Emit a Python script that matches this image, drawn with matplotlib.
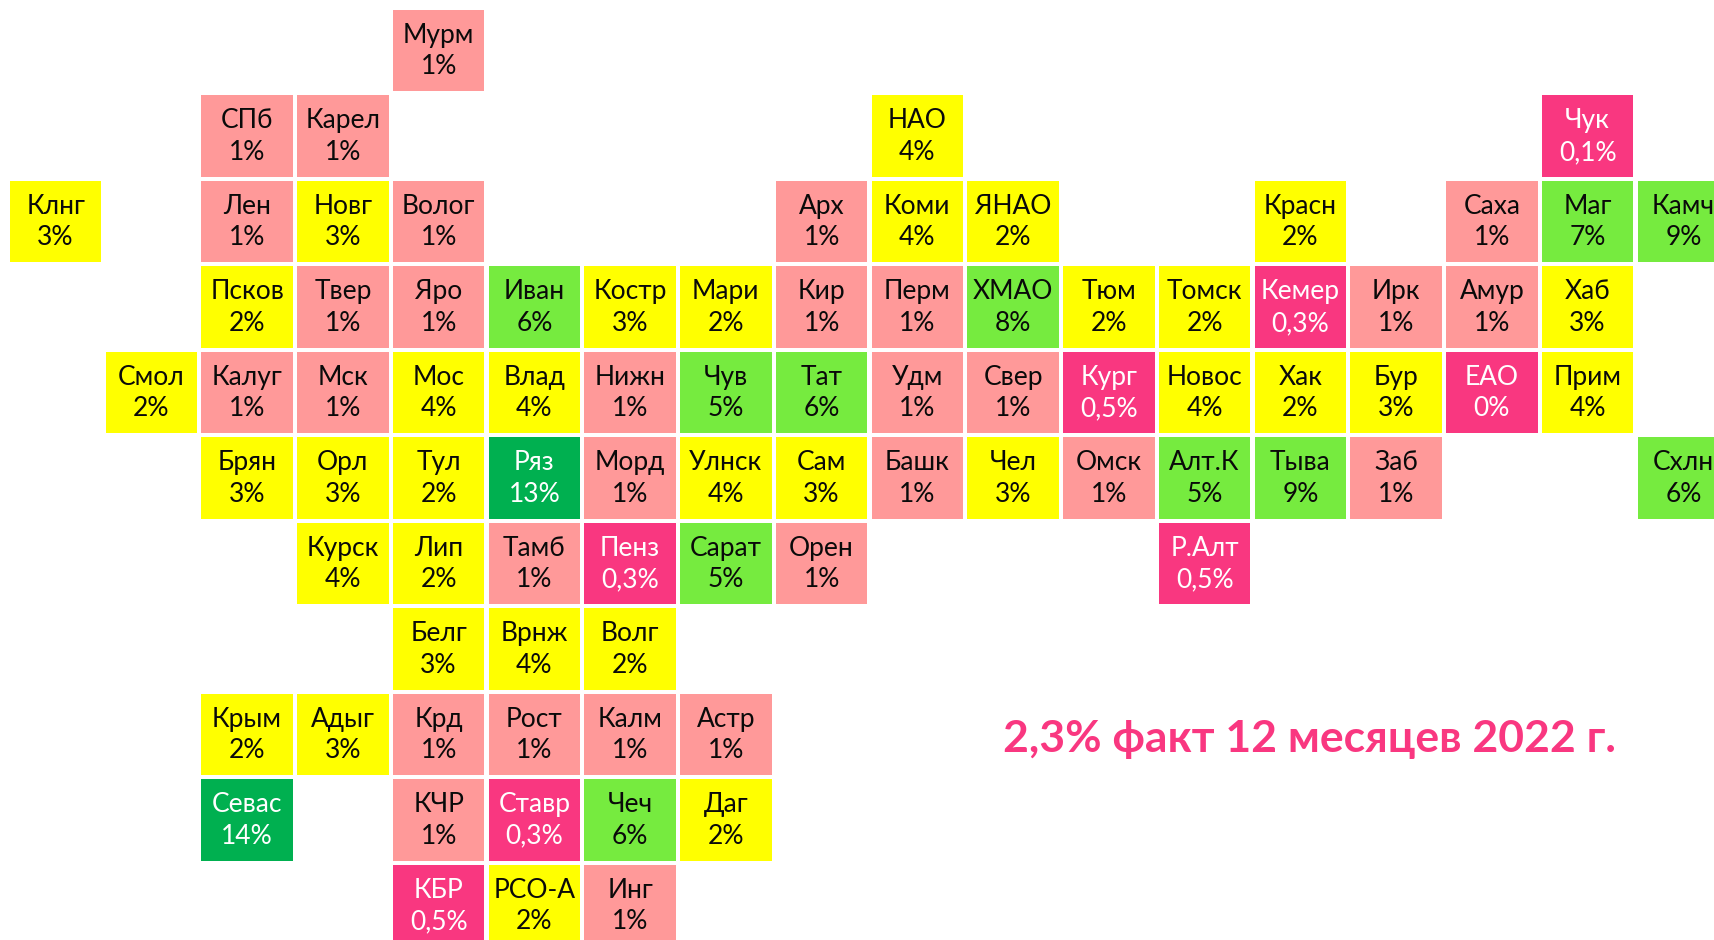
import matplotlib
matplotlib.use("Agg")
import matplotlib.pyplot as plt
from matplotlib.patches import Rectangle

plt.rcParams['font.family'] = ['Lato', 'DejaVu Sans']

regions = ["Мурм",
           "СПб", "Карел", "НАО", "Чук",
           "Клнг", "Лен", "Новг", "Волог", "Арх", "Коми", "ЯНАО", "Красн", "Саха", "Маг", "Камч",
           "Псков", "Твер", "Яро", "Иван", "Костр", "Мари", "Кир", "Перм", "ХМАО", "Тюм", "Томск", "Кемер", "Ирк", "Амур", "Хаб",
           "Смол", "Калуг", "Мск", "Мос", "Влад", "Нижн", "Чув", "Тат", "Удм", "Свер", "Кург", "Новос", "Хак", "Бур", "ЕАО", "Прим",
           "Брян", "Орл", "Тул", "Ряз", "Морд", "Улнск", "Сам", "Башк", "Чел", "Омск", "Алт.К", "Тыва", "Заб", "Схлн",
           "Курск", "Лип", "Тамб", "Пенз", "Сарат", "Орен", "Р.Алт",
           "Белг", "Врнж", "Волг",
           "Крым", "Адыг", "Крд", "Рост", "Калм", "Астр",
           "Севас", "КЧР", "Ставр", "Чеч", "Даг",
           "КБР", "РСО-А", "Инг"]
values = [1,
          1, 1, 4, 0.1,
          3, 1, 3, 1, 1, 4, 2, 2, 1, 7, 9,
          2, 1, 1, 6, 3, 2, 1, 1, 8, 2, 2, 0.3, 1, 1, 3,
          2, 1, 1, 4, 4, 1, 5, 6, 1, 1, 0.5, 4, 2, 3, 0, 4,
          3, 3, 2, 13, 1, 4, 3, 1, 3, 1, 5, 9, 1, 6,
          4, 2, 1, 0.3, 5, 1, 0.5,
          3, 4, 2,
          2, 3, 1, 1, 1, 1,
          14, 1, 0.3, 6, 2,
          0.5, 2, 1]
grid_cols = [4,
             2, 3, 9, 16,
             0, 2, 3, 4, 8, 9, 10, 13, 15, 16, 17,
             2, 3, 4, 5, 6, 7, 8, 9, 10, 11, 12, 13, 14, 15, 16,
             1, 2, 3, 4, 5, 6, 7, 8, 9, 10, 11, 12, 13, 14, 15, 16,
             2, 3, 4, 5, 6, 7, 8, 9, 10, 11, 12, 13, 14, 17,
             3, 4, 5, 6, 7, 8, 12,
             4, 5, 6,
             2, 3, 4, 5, 6, 7,
             2, 4, 5, 6, 7,
             4, 5, 6]
grid_rows = [0,
             1, 1, 1, 1,
             *[2] * 11,
             *[3] * 15,
             *[4] * 16,
             *[5] * 14,
             *[6] * 7,
             *[7] * 3,
             *[8] * 6,
             *[9] * 5,
             *[10] * 3]
headline = "2,3% факт 12 месяцев 2022 г."

PINK_HOT, PINK, YELLOW, GREEN, GREEN_DARK = "#F93780", "#FF9999", "#FFFF00", "#76EB3F", "#00B050"


def fill(v):
    if v < 1:
        return PINK_HOT
    if v < 2:
        return PINK
    if v < 5:
        return YELLOW
    if v < 10:
        return GREEN
    return GREEN_DARK


W, H = 1714, 940
PX, PY = 95.75, 85.47
CW, CH = 91.6 / PX, 81.4 / PY
X0, Y0 = 9.8 / PX, 10 / PY

fig = plt.figure(figsize=(W / 100, H / 100), dpi=100, facecolor="white")
ax = fig.add_axes([0, 0, 1, 1])
ax.set_xlim(-X0, W / PX - X0)
ax.set_ylim(H / PY - Y0, -Y0)
ax.axis("off")

FS = 19
for name, v, c, r in zip(regions, values, grid_cols, grid_rows):
    col = fill(v)
    ax.add_patch(Rectangle((c, r), CW, CH, facecolor=col, edgecolor="none"))
    tc = "white" if col in (PINK_HOT, GREEN_DARK) else "#0a0a0a"
    label = f"{v:g}".replace(".", ",") + "%"
    cx = c + CW / 2
    ax.text(cx, r + 23 / PY, name, ha="center", va="center_baseline", fontsize=FS, color=tc)
    ax.text(cx, r + 54.5 / PY, label, ha="center", va="center_baseline", fontsize=FS, color=tc)

ax.text(1003 / PX - X0, 752 / PY - Y0, headline, ha="left", va="baseline", fontsize=32,
        fontweight="bold", color=PINK_HOT)

fig.savefig("out.png", dpi=100, facecolor="white")
